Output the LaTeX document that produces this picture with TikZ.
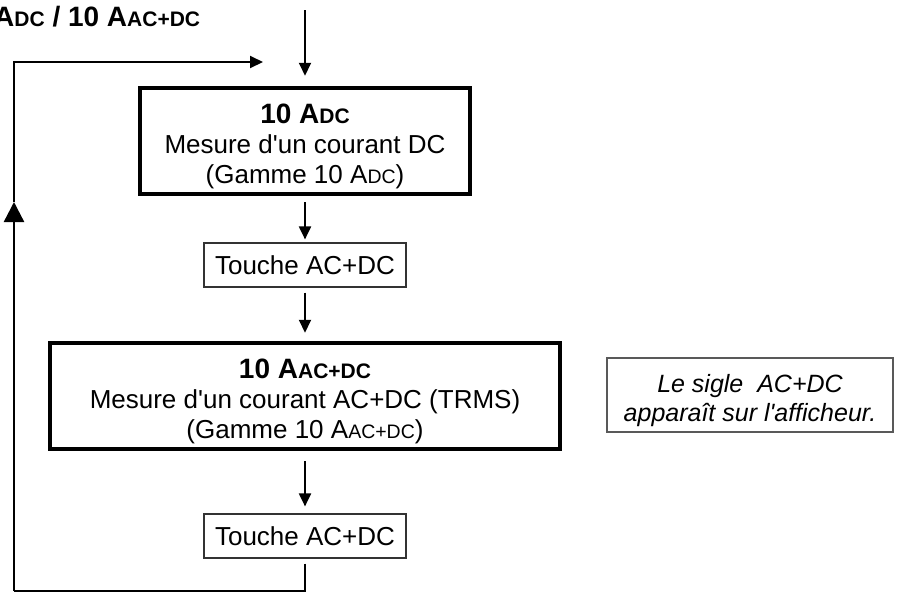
\documentclass[tikz,border=0pt]{standalone}
\usepackage{fontspec}
\setmainfont{Liberation Sans}
\usetikzlibrary{arrows.meta}
\newcommand\smcap[1]{\scalebox{0.75}{#1}}
\newcommand\apos{\textquotesingle}
\begin{document}
\begin{tikzpicture}[x=1pt,y=-1pt,
  bigbox/.style={draw, line width=4.5pt, inner sep=0pt, minimum height=106pt},
  boxtext/.style={inner sep=0pt, align=center, font=\fontsize{26}{30}\selectfont},
  tbox/.style={draw=black!80, line width=1.2pt, inner sep=0pt,
    minimum width=202pt, minimum height=44pt, font=\fontsize{26}{30}\selectfont},
  notebox/.style={draw=black!65, line width=1.5pt, inner sep=0pt,
    minimum width=286pt, minimum height=74pt},
  notetext/.style={inner sep=0pt, align=center, font=\itshape\fontsize{25}{29}\selectfont},
  conn/.style={line width=2pt, -{Triangle[length=13pt,width=12pt]}},
  bigarrow/.style={line width=2.4pt, -{Triangle[length=20pt,width=20pt]}},
  plain/.style={line width=2.2pt}]
\useasboundingbox (0,0) rectangle (901,598);

\node[anchor=base west, inner sep=0pt, font=\bfseries\fontsize{28}{30}\selectfont] (title) at (-6,26)
  {A\smcap{DC} / 10 A\smcap{AC+DC}};

\node[bigbox, minimum width=330pt] (b1) at (305,141) {};
\node[boxtext] (b1t) at ([yshift=-5pt]b1.center)
  {{\bfseries\fontsize{28}{30}\selectfont 10 A\smcap{DC}}\\Mesure d\apos un courant DC\\(Gamme 10 A\smcap{DC})};
\node[tbox] (t1) at (305,265) {Touche AC+DC};
\node[bigbox, minimum width=510pt] (b2) at (305,396) {};
\node[boxtext] (b2t) at ([yshift=-5pt]b2.center)
  {{\bfseries\fontsize{28}{30}\selectfont 10 A\smcap{AC+DC}}\\Mesure d\apos un courant AC+DC (TRMS)\\(Gamme 10 A\smcap{AC+DC})};
\node[tbox] (t2) at (305,536) {Touche AC+DC};
\node[notebox] (note) at (750,395) {};
\node[notetext] (notet) at ([yshift=-6pt]note.center) {Le sigle\ \ AC+DC\\apparaît sur l\apos afficheur.};

\coordinate (inTop) at (305,10);
\coordinate (loopEnd) at (263,62);
\coordinate (corner) at (14,591);
\coordinate (midArrow) at (14,202);

\draw[conn, shorten >=10pt] (inTop) -- (b1.north);
\draw[conn, shorten <=6pt, shorten >=3pt] (b1.south) -- (t1.north);
\draw[conn, shorten <=5pt, shorten >=8pt] (t1.south) -- (b2.north);
\draw[conn, shorten <=10pt, shorten >=7pt] (b2.south) -- (t2.north);
\draw[plain, shorten <=5pt] (t2.south) |- (corner);
\draw[bigarrow] (corner) -- (midArrow);
\draw[conn] (midArrow) |- (loopEnd);
\end{tikzpicture}
\end{document}
